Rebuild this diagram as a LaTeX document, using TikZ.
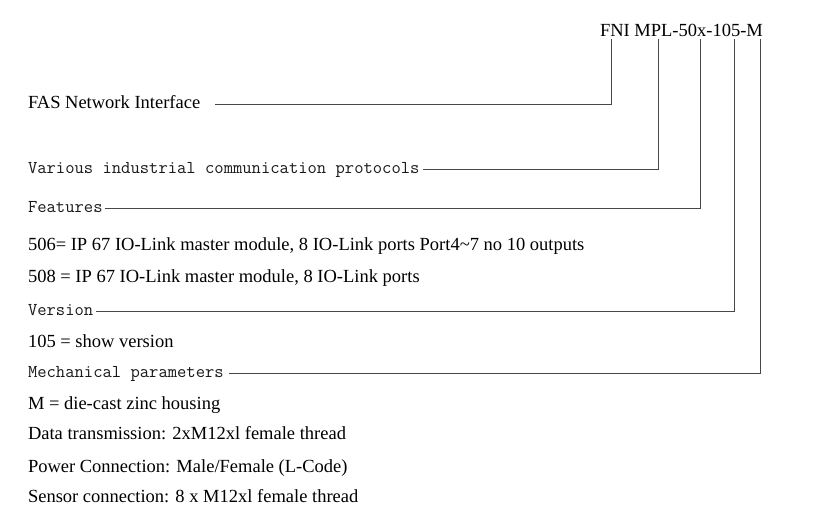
\documentclass[tikz,border=0pt]{standalone}
\usepackage{fontspec}
\setmainfont{Liberation Serif}
\begin{document}
\begin{tikzpicture}[y=1pt,x=1pt,yscale=-1, inner sep=0pt, outer sep=0pt,
  serif/.style={anchor=base west,font=\fontsize{18.5}{22}\selectfont},
  mono/.style={anchor=base west,text=black!90,font=\ttfamily\fontsize{18.1}{20}\selectfont},
  lbl/.style={text height=10pt,text depth=1.6pt},
  lead/.style={draw=black!72,line width=0.9pt,line join=miter,line cap=butt}]
\useasboundingbox[fill=white] (0,0) rectangle (836,510);

% type code and the points under it
\path (600,37) node[serif] (textcode) {FNI MPL-50x-105-M};
\coordinate (tap1) at (611,39);
\coordinate (tap2) at (658,39);
\coordinate (tap3) at (700,39);
\coordinate (tap4) at (734,39);
\coordinate (tap5) at (760,39);

\path (28,109) node[serif,lbl] (textfas) {FAS Network Interface};
\path (28,174) node[mono,lbl] (textproto) {Various industrial communication protocols};
\path (28,212.7) node[mono,lbl] (textfeat) {Features};
\path (28,251) node[serif] (text506) {506= IP 67 IO-Link master module, 8 IO-Link ports Port4\textasciitilde7 no 10 outputs};
\path (28,283) node[serif] (text508) {508 = IP 67 IO-Link master module, 8 IO-Link ports};
\path (28,316) node[mono,lbl] (textvers) {Version};
\path (28,348) node[serif] (text105) {105 = show version};
\path (28,378) node[mono,lbl] (textmech) {Mechanical parameters};
\path (28,410) node[serif] (texthous) {M = die-cast zinc housing};
\path (28,440) node[serif] (textdata) {Data transmission: 2xM12xl female thread};
\path (28,473) node[serif] (textpower) {Power Connection: Male/Female (L-Code)};
\path (28,503) node[serif] (textsens) {Sensor connection: 8 x M12xl female thread};

% leader lines
\path[lead] ([xshift=15pt]textfas.east) -| (tap1);
\path[lead] ([xshift=3pt]textproto.east) -| (tap2);
\path[lead] ([xshift=2pt]textfeat.east) -| (tap3);
\path[lead] ([xshift=3pt]textvers.east) -| (tap4);
\path[lead] ([xshift=5pt]textmech.east) -| (tap5);
\end{tikzpicture}
\end{document}
